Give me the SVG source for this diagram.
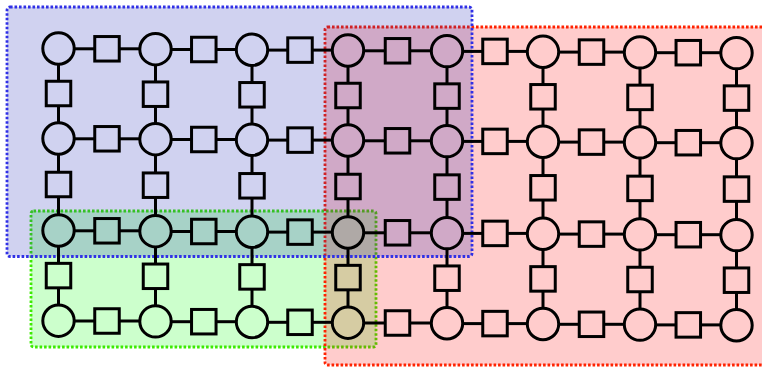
<svg xmlns="http://www.w3.org/2000/svg" width="762" height="367" viewBox="0 0 762 367">
<style>
.n{fill:none;stroke:#000;stroke-width:3}
#edges line{stroke:#000;stroke-width:3}
.reg{stroke-width:2.8;stroke-dasharray:2.6 1.9;fill-opacity:0.2}
</style>
<defs>
<circle id="v" class="n" r="15.7"/>
<rect id="f" class="n" x="-12.25" y="-12.25" width="24.5" height="24.5"/>
</defs>
<rect width="762" height="367" fill="#fff"/>
<g id="regions">
<rect id="green" class="reg" x="31" y="211" width="345" height="136" rx="2.5" fill="#00ff00" stroke="#3cea00"/>
<rect id="red" class="reg" x="325" y="27" width="450" height="338" rx="2.5" fill="#ff0000" stroke="#ff2200"/>
<rect id="blue" class="reg" x="7" y="7" width="465" height="249.5" rx="3" fill="#141eb4" stroke="#3030e6"/>
</g>
<g id="edges">
<line x1="74" y1="48.8" x2="94.8" y2="48.8"/><line x1="119.3" y1="48.8" x2="140" y2="48.8"/>
<line x1="171" y1="49.5" x2="191.6" y2="49.5"/><line x1="216" y1="49.5" x2="236.5" y2="49.5"/>
<line x1="267.5" y1="50.1" x2="287.8" y2="50.1"/><line x1="312.3" y1="50.1" x2="332.5" y2="50.1"/>
<line x1="363.5" y1="50.8" x2="385.3" y2="50.8"/><line x1="409.8" y1="50.8" x2="431.5" y2="50.8"/>
<line x1="462.5" y1="51.4" x2="482.8" y2="51.4"/><line x1="507.3" y1="51.4" x2="527.5" y2="51.4"/>
<line x1="558.5" y1="52.1" x2="579.3" y2="52.1"/><line x1="603.8" y1="52.1" x2="624.5" y2="52.1"/>
<line x1="655.5" y1="52.7" x2="676" y2="52.7"/><line x1="700.6" y1="52.7" x2="721" y2="52.7"/>
<line x1="74" y1="138.8" x2="94.8" y2="138.8"/><line x1="119.3" y1="138.8" x2="140" y2="138.8"/>
<line x1="171" y1="139.5" x2="191.6" y2="139.5"/><line x1="216" y1="139.5" x2="236.5" y2="139.5"/>
<line x1="267.5" y1="140.1" x2="287.8" y2="140.1"/><line x1="312.3" y1="140.1" x2="332.5" y2="140.1"/>
<line x1="363.5" y1="140.8" x2="385.3" y2="140.8"/><line x1="409.8" y1="140.8" x2="431.5" y2="140.8"/>
<line x1="462.5" y1="141.4" x2="482.8" y2="141.4"/><line x1="507.3" y1="141.4" x2="527.5" y2="141.4"/>
<line x1="558.5" y1="142.1" x2="579.3" y2="142.1"/><line x1="603.8" y1="142.1" x2="624.5" y2="142.1"/>
<line x1="655.5" y1="142.7" x2="676" y2="142.7"/><line x1="700.6" y1="142.7" x2="721" y2="142.7"/>
<line x1="74" y1="230.8" x2="94.8" y2="230.8"/><line x1="119.3" y1="230.8" x2="140" y2="230.8"/>
<line x1="171" y1="231.5" x2="191.6" y2="231.5"/><line x1="216" y1="231.5" x2="236.5" y2="231.5"/>
<line x1="267.5" y1="232.1" x2="287.8" y2="232.1"/><line x1="312.3" y1="232.1" x2="332.5" y2="232.1"/>
<line x1="363.5" y1="232.8" x2="385.3" y2="232.8"/><line x1="409.8" y1="232.8" x2="431.5" y2="232.8"/>
<line x1="462.5" y1="233.4" x2="482.8" y2="233.4"/><line x1="507.3" y1="233.4" x2="527.5" y2="233.4"/>
<line x1="558.5" y1="234.1" x2="579.3" y2="234.1"/><line x1="603.8" y1="234.1" x2="624.5" y2="234.1"/>
<line x1="655.5" y1="234.7" x2="676" y2="234.7"/><line x1="700.6" y1="234.7" x2="721" y2="234.7"/>
<line x1="74" y1="321" x2="94.8" y2="321"/><line x1="119.3" y1="321" x2="140" y2="321"/>
<line x1="171" y1="321.7" x2="191.6" y2="321.7"/><line x1="216" y1="321.7" x2="236.5" y2="321.7"/>
<line x1="267.5" y1="322.3" x2="287.8" y2="322.3"/><line x1="312.3" y1="322.3" x2="332.5" y2="322.3"/>
<line x1="363.5" y1="323" x2="385.3" y2="323"/><line x1="409.8" y1="323" x2="431.5" y2="323"/>
<line x1="462.5" y1="323.6" x2="482.8" y2="323.6"/><line x1="507.3" y1="323.6" x2="527.5" y2="323.6"/>
<line x1="558.5" y1="324.3" x2="579.3" y2="324.3"/><line x1="603.8" y1="324.3" x2="624.5" y2="324.3"/>
<line x1="655.5" y1="324.9" x2="676" y2="324.9"/><line x1="700.6" y1="324.9" x2="721" y2="324.9"/>
<line x1="58.5" y1="64" x2="58.5" y2="81.3"/><line x1="58.5" y1="105.8" x2="58.5" y2="123"/><line x1="58.5" y1="154" x2="58.5" y2="172.3"/><line x1="58.5" y1="196.8" x2="58.5" y2="215"/><line x1="58.5" y1="246" x2="58.5" y2="263.4"/><line x1="58.5" y1="287.9" x2="58.5" y2="305.2"/>
<line x1="155.5" y1="64.7" x2="155.5" y2="82"/><line x1="155.5" y1="106.5" x2="155.5" y2="123.7"/><line x1="155.5" y1="154.7" x2="155.5" y2="173"/><line x1="155.5" y1="197.5" x2="155.5" y2="215.7"/><line x1="155.5" y1="246.7" x2="155.5" y2="264.1"/><line x1="155.5" y1="288.6" x2="155.5" y2="305.9"/>
<line x1="252" y1="65.3" x2="252" y2="82.6"/><line x1="252" y1="107.1" x2="252" y2="124.3"/><line x1="252" y1="155.3" x2="252" y2="173.6"/><line x1="252" y1="198.1" x2="252" y2="216.3"/><line x1="252" y1="247.3" x2="252" y2="264.7"/><line x1="252" y1="289.2" x2="252" y2="306.5"/>
<line x1="348" y1="66" x2="348" y2="83.3"/><line x1="348" y1="107.8" x2="348" y2="125"/><line x1="348" y1="156" x2="348" y2="174.3"/><line x1="348" y1="198.8" x2="348" y2="217"/><line x1="348" y1="248" x2="348" y2="265.4"/><line x1="348" y1="289.9" x2="348" y2="307.2"/>
<line x1="447" y1="66.6" x2="447" y2="83.9"/><line x1="447" y1="108.4" x2="447" y2="125.6"/><line x1="447" y1="156.6" x2="447" y2="174.9"/><line x1="447" y1="199.4" x2="447" y2="217.6"/><line x1="447" y1="248.6" x2="447" y2="266"/><line x1="447" y1="290.5" x2="447" y2="307.8"/>
<line x1="543" y1="67.3" x2="543" y2="84.6"/><line x1="543" y1="109.1" x2="543" y2="126.3"/><line x1="543" y1="157.3" x2="543" y2="175.6"/><line x1="543" y1="200.1" x2="543" y2="218.3"/><line x1="543" y1="249.3" x2="543" y2="266.7"/><line x1="543" y1="291.2" x2="543" y2="308.5"/>
<line x1="640" y1="67.9" x2="640" y2="85.2"/><line x1="640" y1="109.7" x2="640" y2="126.9"/><line x1="640" y1="157.9" x2="640" y2="176.2"/><line x1="640" y1="200.7" x2="640" y2="218.9"/><line x1="640" y1="249.9" x2="640" y2="267.3"/><line x1="640" y1="291.8" x2="640" y2="309.1"/>
<line x1="736.5" y1="68.6" x2="736.5" y2="85.9"/><line x1="736.5" y1="110.4" x2="736.5" y2="127.6"/><line x1="736.5" y1="158.6" x2="736.5" y2="176.9"/><line x1="736.5" y1="201.4" x2="736.5" y2="219.6"/><line x1="736.5" y1="250.6" x2="736.5" y2="268"/><line x1="736.5" y1="292.5" x2="736.5" y2="309.8"/>
</g>
<g id="factors">
<g id="fh00"><use href="#f" x="107" y="48.8"/></g>
<g id="fh01"><use href="#f" x="203.8" y="49.5"/></g>
<g id="fh02"><use href="#f" x="300" y="50.1"/></g>
<g id="fh03"><use href="#f" x="397.5" y="50.8"/></g>
<g id="fh04"><use href="#f" x="495" y="51.4"/></g>
<g id="fh05"><use href="#f" x="591.5" y="52.1"/></g>
<g id="fh06"><use href="#f" x="688.3" y="52.7"/></g>
<g id="fh10"><use href="#f" x="107" y="138.8"/></g>
<g id="fh11"><use href="#f" x="203.8" y="139.5"/></g>
<g id="fh12"><use href="#f" x="300" y="140.1"/></g>
<g id="fh13"><use href="#f" x="397.5" y="140.8"/></g>
<g id="fh14"><use href="#f" x="495" y="141.4"/></g>
<g id="fh15"><use href="#f" x="591.5" y="142.1"/></g>
<g id="fh16"><use href="#f" x="688.3" y="142.7"/></g>
<g id="fh20"><use href="#f" x="107" y="230.8"/></g>
<g id="fh21"><use href="#f" x="203.8" y="231.5"/></g>
<g id="fh22"><use href="#f" x="300" y="232.1"/></g>
<g id="fh23"><use href="#f" x="397.5" y="232.8"/></g>
<g id="fh24"><use href="#f" x="495" y="233.4"/></g>
<g id="fh25"><use href="#f" x="591.5" y="234.1"/></g>
<g id="fh26"><use href="#f" x="688.3" y="234.7"/></g>
<g id="fh30"><use href="#f" x="107" y="321"/></g>
<g id="fh31"><use href="#f" x="203.8" y="321.7"/></g>
<g id="fh32"><use href="#f" x="300" y="322.3"/></g>
<g id="fh33"><use href="#f" x="397.5" y="323"/></g>
<g id="fh34"><use href="#f" x="495" y="323.6"/></g>
<g id="fh35"><use href="#f" x="591.5" y="324.3"/></g>
<g id="fh36"><use href="#f" x="688.3" y="324.9"/></g>
<g id="fv00"><use href="#f" x="58.5" y="93.5"/></g>
<g id="fv01"><use href="#f" x="155.5" y="94.2"/></g>
<g id="fv02"><use href="#f" x="252" y="94.8"/></g>
<g id="fv03"><use href="#f" x="348" y="95.5"/></g>
<g id="fv04"><use href="#f" x="447" y="96.1"/></g>
<g id="fv05"><use href="#f" x="543" y="96.8"/></g>
<g id="fv06"><use href="#f" x="640" y="97.4"/></g>
<g id="fv07"><use href="#f" x="736.5" y="98.1"/></g>
<g id="fv10"><use href="#f" x="58.5" y="184.5"/></g>
<g id="fv11"><use href="#f" x="155.5" y="185.2"/></g>
<g id="fv12"><use href="#f" x="252" y="185.8"/></g>
<g id="fv13"><use href="#f" x="348" y="186.5"/></g>
<g id="fv14"><use href="#f" x="447" y="187.1"/></g>
<g id="fv15"><use href="#f" x="543" y="187.8"/></g>
<g id="fv16"><use href="#f" x="640" y="188.4"/></g>
<g id="fv17"><use href="#f" x="736.5" y="189.1"/></g>
<g id="fv20"><use href="#f" x="58.5" y="275.6"/></g>
<g id="fv21"><use href="#f" x="155.5" y="276.3"/></g>
<g id="fv22"><use href="#f" x="252" y="276.9"/></g>
<g id="fv23"><use href="#f" x="348" y="277.6"/></g>
<g id="fv24"><use href="#f" x="447" y="278.2"/></g>
<g id="fv25"><use href="#f" x="543" y="278.9"/></g>
<g id="fv26"><use href="#f" x="640" y="279.5"/></g>
<g id="fv27"><use href="#f" x="736.5" y="280.2"/></g>
</g>
<g id="variables">
<g id="x00"><use href="#v" x="58.5" y="48.5"/></g>
<g id="x01"><use href="#v" x="155.5" y="49.2"/></g>
<g id="x02"><use href="#v" x="252" y="49.8"/></g>
<g id="x03"><use href="#v" x="348" y="50.5"/></g>
<g id="x04"><use href="#v" x="447" y="51.1"/></g>
<g id="x05"><use href="#v" x="543" y="51.8"/></g>
<g id="x06"><use href="#v" x="640" y="52.4"/></g>
<g id="x07"><use href="#v" x="736.5" y="53.1"/></g>
<g id="x10"><use href="#v" x="58.5" y="138.5"/></g>
<g id="x11"><use href="#v" x="155.5" y="139.2"/></g>
<g id="x12"><use href="#v" x="252" y="139.8"/></g>
<g id="x13"><use href="#v" x="348" y="140.5"/></g>
<g id="x14"><use href="#v" x="447" y="141.1"/></g>
<g id="x15"><use href="#v" x="543" y="141.8"/></g>
<g id="x16"><use href="#v" x="640" y="142.4"/></g>
<g id="x17"><use href="#v" x="736.5" y="143.1"/></g>
<g id="x20"><use href="#v" x="58.5" y="230.5"/></g>
<g id="x21"><use href="#v" x="155.5" y="231.2"/></g>
<g id="x22"><use href="#v" x="252" y="231.8"/></g>
<g id="x23"><use href="#v" x="348" y="232.5"/></g>
<g id="x24"><use href="#v" x="447" y="233.1"/></g>
<g id="x25"><use href="#v" x="543" y="233.8"/></g>
<g id="x26"><use href="#v" x="640" y="234.4"/></g>
<g id="x27"><use href="#v" x="736.5" y="235.1"/></g>
<g id="x30"><use href="#v" x="58.5" y="320.7"/></g>
<g id="x31"><use href="#v" x="155.5" y="321.4"/></g>
<g id="x32"><use href="#v" x="252" y="322"/></g>
<g id="x33"><use href="#v" x="348" y="322.7"/></g>
<g id="x34"><use href="#v" x="447" y="323.3"/></g>
<g id="x35"><use href="#v" x="543" y="324"/></g>
<g id="x36"><use href="#v" x="640" y="324.6"/></g>
<g id="x37"><use href="#v" x="736.5" y="325.3"/></g>
</g>
</svg>
